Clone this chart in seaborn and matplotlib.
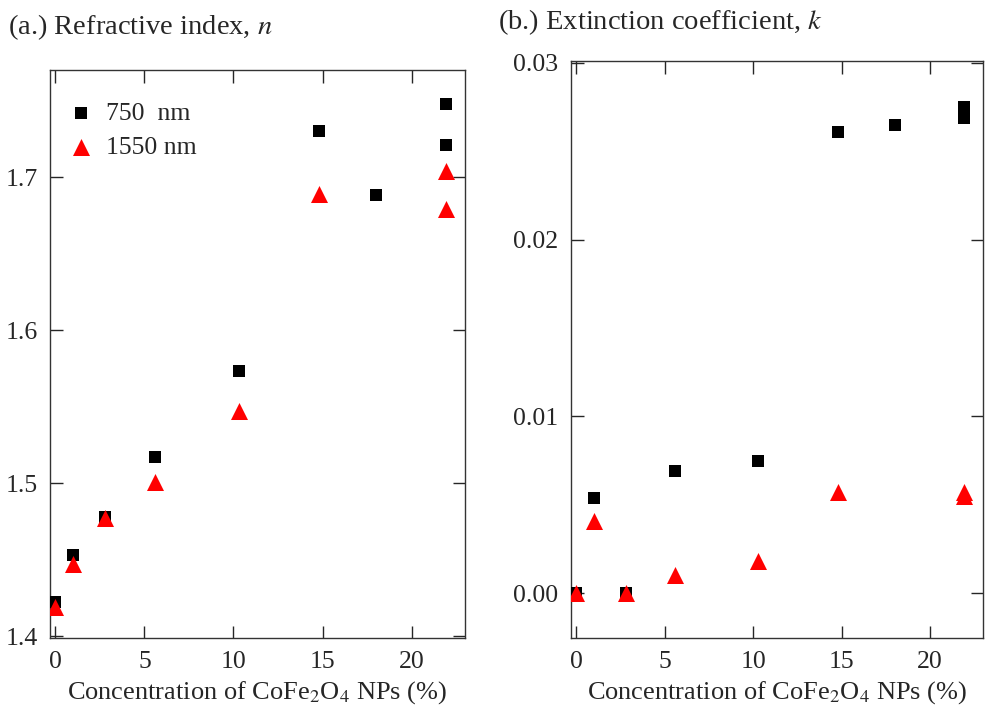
import numpy as np
import matplotlib
matplotlib.use('Agg')
import matplotlib.pyplot as plt
import pandas as pd
import seaborn as sns

# data
conc_750 = [0.0, 1.0, 2.8, 5.6, 10.3, 14.8, 18.0, 21.95, 21.95]
n_750 = [1.422, 1.453, 1.478, 1.517, 1.573, 1.730, 1.688, 1.748, 1.721]
k_750 = [0.0, 0.0054, 0.0, 0.0069, 0.0075, 0.0261, 0.0265, 0.0275, 0.0269]

conc_1550 = [0.0, 1.0, 2.8, 5.6, 10.3, 14.8, 21.95, 21.95]
n_1550 = [1.419, 1.447, 1.477, 1.501, 1.547, 1.689, 1.704, 1.679]
k_1550 = [0.0, 0.0041, 0.0, 0.0010, 0.0018, 0.0057, 0.0057, 0.0055]

labels = ['750  nm', '1550 nm']
x_ticks = [0, 5, 10, 15, 20]
n_ticks = [1.4, 1.5, 1.6, 1.7]
k_ticks = [0.00, 0.01, 0.02, 0.03]

df = pd.concat([
    pd.DataFrame({'conc': conc_750, 'n': n_750, 'k': k_750, 'wl': labels[0]}),
    pd.DataFrame({'conc': conc_1550, 'n': n_1550, 'k': k_1550, 'wl': labels[1]}),
], ignore_index=True)

sns.set_style('ticks')
plt.rcParams['font.family'] = ['Liberation Serif', 'DejaVu Serif']
plt.rcParams['mathtext.fontset'] = 'stix'
plt.rcParams['font.size'] = 18
plt.rcParams['axes.linewidth'] = 1.0
plt.rcParams['axes.edgecolor'] = '#333333'
for ax_name in ['xtick', 'ytick']:
    plt.rcParams[ax_name + '.direction'] = 'in'
    plt.rcParams[ax_name + '.major.size'] = 9
    plt.rcParams[ax_name + '.major.width'] = 1.0
    plt.rcParams[ax_name + '.major.pad'] = 9
    plt.rcParams[ax_name + '.labelsize'] = 18.5

fig = plt.figure(figsize=(9.85, 7.15), dpi=100)
ax1 = fig.add_axes([50 / 985, 77 / 715, 415 / 985, 568 / 715])
ax2 = fig.add_axes([571 / 985, 77 / 715, 412 / 985, 577 / 715])

pal = {labels[0]: 'black', labels[1]: 'red'}
mk = {labels[0]: 's', labels[1]: '^'}
sizes = {labels[0]: 80, labels[1]: 150}

for ax, col in [(ax1, 'n'), (ax2, 'k')]:
    for lab in labels:
        sub = df[df['wl'] == lab]
        sns.scatterplot(data=sub, x='conc', y=col, color=pal[lab], marker=mk[lab],
                        s=sizes[lab], linewidth=0, ax=ax, label=lab, zorder=3)
    ax.set_xlim(-0.3, 23)
    ax.set_xticks(x_ticks)
    ax.set_xlabel('Concentration of CoFe$_2$O$_4$ NPs (%)', fontsize=19, labelpad=5)
    ax.set_ylabel('')
    ax.tick_params(top=True, right=True)
    for s in ax.spines.values():
        s.set_visible(True)

ax1.set_ylim(1.3987, 1.770)
ax1.set_yticks(n_ticks)
ax1.set_yticklabels(['1.4', '1.5', '1.6', '1.7'])
ax2.set_ylim(-0.00254, 0.0301)
ax2.set_yticks(k_ticks)
ax2.set_yticklabels(['0.00', '0.01', '0.02', '0.03'])

ax1.legend(loc='upper left', bbox_to_anchor=(-0.005, 0.975), frameon=False,
           fontsize=18.5, handlelength=1.2, handletextpad=0.35, labelspacing=0.42,
           borderaxespad=0.3)
ax2.get_legend().remove()

fig.text(8 / 985, 1 - 27 / 715, '(a.) Refractive index, $n$', fontsize=20.5, va='center', ha='left')
fig.text(498 / 985, 1 - 22 / 715, '(b.) Extinction coefficient, $k$', fontsize=20.5, va='center', ha='left')

fig.savefig('out.png', dpi=100)
